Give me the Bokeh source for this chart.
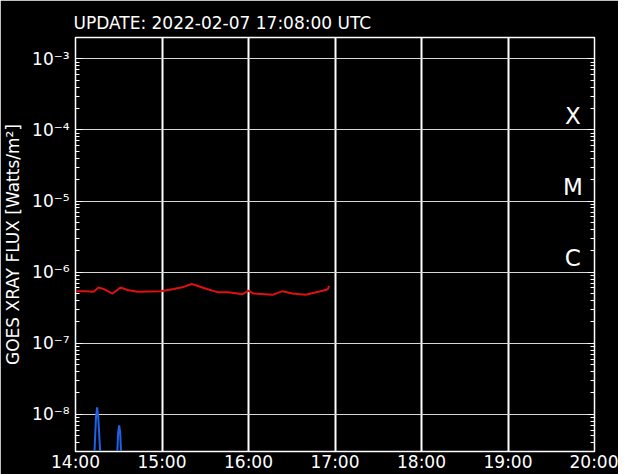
from datetime import datetime, timedelta
from bokeh.plotting import figure
from bokeh.models import (LogAxis, LogTicker, FixedTicker, DatetimeTickFormatter,
                          CustomJSTickFormatter, Range1d, ColumnDataSource)
from bokeh.core.properties import value
from bokeh.embed import file_html
from bokeh.resources import INLINE

# ---- data ----
title_text = "UPDATE: 2022-02-07 17:08:00 UTC"
y_label = "GOES XRAY FLUX [Watts/m\u00b2]"
day_start = datetime(2022, 2, 7, 14, 0)
day_end = datetime(2022, 2, 7, 20, 0)
hour_ticks = [datetime(2022, 2, 7, h, 0) for h in range(14, 21)]

# long channel (1-8 A), minutes after 14:00
long_minutes = [0, 7, 12.5, 16, 19.4, 25.7, 31.2, 36, 43, 59, 68, 75, 80.5, 83, 90, 99,
                106, 116, 120, 123.5, 136.6, 143.6, 150.5, 159.5, 168.5, 174.8, 176]
long_flux = [5.4e-7, 5.4e-7, 5.3e-7, 6.1e-7, 5.8e-7, 5.0e-7, 6.1e-7, 5.6e-7, 5.3e-7, 5.4e-7,
             5.8e-7, 6.2e-7, 6.8e-7, 6.6e-7, 5.9e-7, 5.2e-7, 5.2e-7, 4.9e-7, 5.5e-7, 5.0e-7,
             4.8e-7, 5.4e-7, 5.0e-7, 4.8e-7, 5.3e-7, 5.7e-7, 6.4e-7]

# short channel (0.5-4 A), mostly below the plotted range
short_minutes = [0, 12.8, 14.2, 15.0, 15.8, 17.6, 28.6, 29.6, 30.3, 31.0, 31.9, 176]
short_flux = [1.0e-9, 2.0e-9, 9.0e-9, 1.25e-8, 9.0e-9, 2.0e-9, 2.0e-9, 5.5e-9, 7.0e-9,
              5.5e-9, 2.0e-9, 1.0e-9]

class_labels = ["X", "M", "C"]
class_levels = [1e-4, 1e-5, 1e-6]
class_time = datetime(2022, 2, 7, 19, 45)

y_min, y_max = 3.0e-9, 2.0e-3

FONT = "DejaVu Sans"
FS = "17px"

# ---- figure ----
p = figure(width=618, height=474, x_axis_type="datetime", y_axis_type="log",
           x_range=Range1d(day_start, day_end), y_range=Range1d(y_min, y_max),
           output_backend="svg", toolbar_location=None,
           background_fill_color="black", border_fill_color="black",
           min_border_left=75, min_border_right=24, min_border_top=37, min_border_bottom=0)
p.outline_line_color = "white"
p.outline_line_width = 1.5

p.title.text = title_text
p.title.text_color = "white"
p.title.text_font = FONT
p.title.text_font_size = FS
p.title.text_font_style = "normal"
p.title.offset = -2

long_t = [day_start + timedelta(minutes=m) for m in long_minutes]
short_t = [day_start + timedelta(minutes=m) for m in short_minutes]
p.line(long_t, long_flux, line_color="#e01010", line_width=2)
p.line(short_t, short_flux, line_color="#1f62e8", line_width=2)

src = ColumnDataSource(dict(x=[class_time] * 3, y=class_levels, t=class_labels))
p.text("x", "y", "t", source=src, text_color="white", text_font=value(FONT),
       text_font_size="23px", text_align="center", text_baseline="bottom", y_offset=-1)

# x axis
xa = p.xaxis[0]
xa.ticker = FixedTicker(ticks=[t.timestamp() * 1000 for t in hour_ticks])
xa.formatter = DatetimeTickFormatter(hours="%H:%M", minutes="%H:%M", days="%H:%M")
xa.axis_line_color = "white"
xa.major_tick_line_color = None
xa.minor_tick_line_color = None
xa.major_tick_in = 0
xa.major_tick_out = 0
xa.major_label_text_color = "white"
xa.major_label_text_font = FONT
xa.major_label_text_font_size = FS
xa.major_label_standoff = 0

sup_js = """
const sup = {'-':'\u207b','0':'\u2070','1':'\u00b9','2':'\u00b2','3':'\u00b3','4':'\u2074',
             '5':'\u2075','6':'\u2076','7':'\u2077','8':'\u2078','9':'\u2079'};
const e = Math.round(Math.log10(tick));
return '10' + String(e).split('').map(c => sup[c]).join('');
"""

ya = p.yaxis[0]
ya.ticker = LogTicker(num_minor_ticks=10)
ya.formatter = CustomJSTickFormatter(code=sup_js)
ya.axis_line_color = "white"
ya.major_tick_line_color = "white"
ya.minor_tick_line_color = "white"
ya.major_tick_in = 7
ya.major_tick_out = 0
ya.minor_tick_in = 4
ya.minor_tick_out = 0
ya.major_label_text_color = "white"
ya.major_label_text_font = FONT
ya.major_label_text_font_size = FS
ya.major_label_standoff = 6
ya.axis_label = y_label
ya.axis_label_text_color = "white"
ya.axis_label_text_font = FONT
ya.axis_label_text_font_size = FS
ya.axis_label_text_font_style = "normal"
ya.axis_label_standoff = 6

ra = LogAxis(ticker=LogTicker(num_minor_ticks=10), axis_line_color="white",
             major_tick_line_color="white", minor_tick_line_color="white",
             major_tick_in=7, major_tick_out=0, minor_tick_in=4, minor_tick_out=0,
             major_label_text_font_size="0px", major_label_text_color=None)
p.add_layout(ra, "right")

p.xgrid.ticker = xa.ticker
p.xgrid.grid_line_color = "white"
p.xgrid.grid_line_width = 2
p.ygrid.grid_line_color = "#d8d8d8"
p.ygrid.grid_line_width = 1
p.ygrid.minor_grid_line_color = None

open("out.html", "w").write(file_html(p, INLINE))
